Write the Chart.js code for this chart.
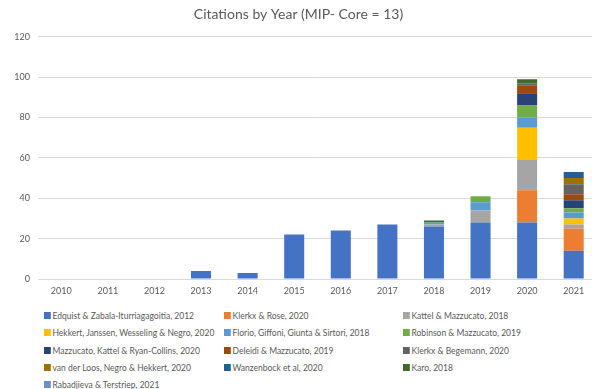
<!DOCTYPE html>
<html lang="en">
<head>
  <meta charset="UTF-8" />
  <title>Citations by Year</title>
  <script src="https://cdn.jsdelivr.net/npm/chart.js"></script>
  <style>
    html, body {
      margin: 0;
      padding: 0;
      background: #ffffff;
      overflow: hidden;
      width: 592px;
      height: 389px;
    }
    #wrap {
      position: relative;
      width: 592px;
      height: 389px;
    }
    canvas {
      position: absolute;
      left: 0;
      top: 0;
    }
    #legend {
      position: absolute;
      left: 0;
      top: 0;
      font-family: Lato, "Open Sans", sans-serif;
      font-size: 10px;
      color: #595959;
    }
    .item {
      position: absolute;
      white-space: nowrap;
      line-height: 12px;
      transform: scaleX(0.85);
      transform-origin: left center;
    }
    .box {
      display: inline-block;
      width: 8px;
      height: 7px;
      margin-right: 2px;
      vertical-align: 0px;
    }
  </style>
</head>
<body>
  <div id="wrap">
    <canvas id="citeChart" width="602" height="300"></canvas>
    <div id="legend"></div>
  </div>

  <script>
    const years = ['2010', '2011', '2012', '2013', '2014', '2015', '2016', '2017', '2018', '2019', '2020', '2021'];

    // citations per year for each paper (2010 .. 2021)
    const edquist        = [0, 0, 0, 4, 3, 22, 24, 27, 26, 28, 28, 14];
    const klerkxRose     = [0, 0, 0, 0, 0, 0, 0, 0, 0, 0, 16, 11];
    const kattel         = [0, 0, 0, 0, 0, 0, 0, 0, 1, 6, 15, 2];
    const hekkert        = [0, 0, 0, 0, 0, 0, 0, 0, 0, 0, 16, 3];
    const florio         = [0, 0, 0, 0, 0, 0, 0, 0, 1, 4, 5, 3];
    const robinson       = [0, 0, 0, 0, 0, 0, 0, 0, 0, 3, 6, 2];
    const mazzucatoKRC   = [0, 0, 0, 0, 0, 0, 0, 0, 0, 0, 6, 4];
    const deleidi        = [0, 0, 0, 0, 0, 0, 0, 0, 0, 0, 4, 3];
    const klerkxBegemann = [0, 0, 0, 0, 0, 0, 0, 0, 0, 0, 1, 5];
    const vanDerLoos     = [0, 0, 0, 0, 0, 0, 0, 0, 0, 0, 0, 3];
    const wanzenbock     = [0, 0, 0, 0, 0, 0, 0, 0, 0, 0, 0, 3];
    const karo           = [0, 0, 0, 0, 0, 0, 0, 0, 1, 0, 2, 0];
    const rabadjieva     = [0, 0, 0, 0, 0, 0, 0, 0, 0, 0, 0, 0];

    const yTicks = [0, 20, 40, 60, 80, 100, 120];

    const series = [
      { label: 'Edquist & Zabala-Iturriagagoitia, 2012', data: edquist, color: '#4472C4' },
      { label: 'Klerkx & Rose, 2020', data: klerkxRose, color: '#ED7D31' },
      { label: 'Kattel & Mazzucato, 2018', data: kattel, color: '#A5A5A5' },
      { label: 'Hekkert, Janssen, Wesseling & Negro, 2020', data: hekkert, color: '#FFC000' },
      { label: 'Florio, Giffoni, Giunta & Sirtori, 2018', data: florio, color: '#5B9BD5' },
      { label: 'Robinson & Mazzucato, 2019', data: robinson, color: '#70AD47' },
      { label: 'Mazzucato, Kattel & Ryan-Collins, 2020', data: mazzucatoKRC, color: '#264478' },
      { label: 'Deleidi & Mazzucato, 2019', data: deleidi, color: '#9E480E' },
      { label: 'Klerkx & Begemann, 2020', data: klerkxBegemann, color: '#636363' },
      { label: 'van der Loos, Negro & Hekkert, 2020', data: vanDerLoos, color: '#997300' },
      { label: 'Wanzenbock et al, 2020', data: wanzenbock, color: '#255E91' },
      { label: 'Karo, 2018', data: karo, color: '#43682B' },
      { label: 'Rabadjieva & Terstriep, 2021', data: rabadjieva, color: '#698ED0' }
    ];

    const ctx = document.getElementById('citeChart').getContext('2d');

    const chart = new Chart(ctx, {
      type: 'bar',
      data: {
        labels: years,
        datasets: series.map(s => ({
          label: s.label,
          data: s.data,
          backgroundColor: s.color,
          borderWidth: 0,
          categoryPercentage: 1.0,
          barPercentage: 0.43
        }))
      },
      options: {
        responsive: false,
        animation: false,
        layout: { padding: { left: 0, right: 5, top: 6, bottom: 0 } },
        plugins: {
          legend: { display: false },
          tooltip: { enabled: false },
          title: {
            display: true,
            text: 'Citations by Year (MIP- Core = 13)',
            color: '#595959',
            font: { family: 'Lato', size: 14, weight: 'normal' },
            padding: { top: 0, bottom: 14 }
          }
        },
        scales: {
          x: {
            stacked: true,
            grid: { display: false, drawTicks: false },
            border: { display: false },
            ticks: {
              color: '#595959',
              font: { family: 'Lato', size: 9 },
              padding: 7,
              maxRotation: 0
            },
            afterFit: scale => { scale.height = 21; }
          },
          y: {
            stacked: true,
            min: 0,
            max: 120,
            afterBuildTicks: scale => {
              scale.ticks = yTicks.map(v => ({ value: v }));
            },
            grid: { color: '#D9D9D9', drawTicks: false },
            border: { display: false },
            ticks: {
              color: '#595959',
              font: { family: 'Lato', size: 9 },
              padding: 8
            },
            afterFit: scale => { scale.width = 38; }
          }
        }
      }
    });

    // legend in three fixed columns below the plot
    const legend = document.getElementById('legend');
    const colX = [44, 224, 403];
    const rowY = [309, 326, 344, 361, 378];
    series.forEach((s, i) => {
      const item = document.createElement('div');
      item.className = 'item';
      item.style.left = colX[i % 3] + 'px';
      item.style.top = rowY[Math.floor(i / 3)] + 'px';
      const box = document.createElement('span');
      box.className = 'box';
      box.style.background = s.color;
      item.appendChild(box);
      item.appendChild(document.createTextNode(s.label));
      legend.appendChild(item);
    });
  </script>
</body>
</html>
